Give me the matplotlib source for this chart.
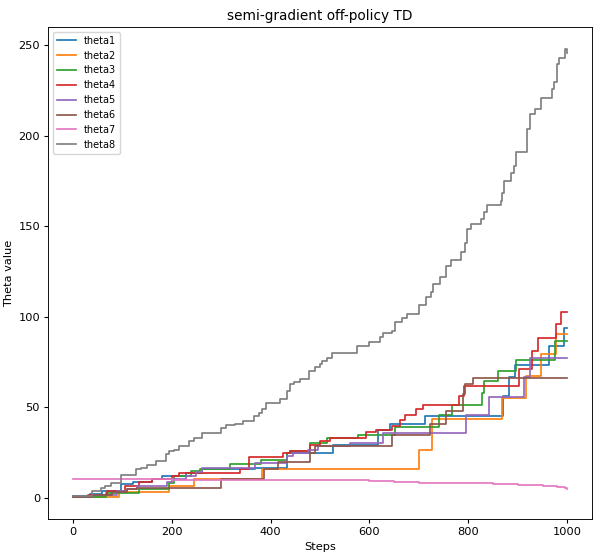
import numpy as np
import matplotlib
matplotlib.use("Agg")
import matplotlib.pyplot as plt

# step positions and theta values (value holds until next step)
steps1 = [0, 35, 60, 97, 121, 161, 181, 230, 261, 369, 433, 527, 618, 641, 712, 870, 883, 895, 964, 994, 1000]
theta1 = [0.8, 2.0, 3.5, 7.2, 8.5, 10.3, 11.8, 13.6, 15.5, 16.4, 24.7, 29.3, 37.6, 40.4, 45.2, 56.0, 66.5, 73.0, 84.0, 94.0, 94.0]

steps2 = [0, 94, 195, 245, 383, 700, 727, 868, 917, 947, 977, 1000]
theta2 = [0.5, 3.3, 6.3, 10.5, 15.5, 26.2, 43.5, 55.1, 67.1, 79.1, 90.2, 90.2]

steps3 = [0, 67, 134, 195, 205, 240, 258, 319, 380, 433, 440, 480, 514, 577, 651, 741, 766, 828, 832, 859, 896, 976, 1000]
theta3 = [0.5, 2.6, 4.6, 8.2, 11.8, 14.8, 15.9, 18.3, 21.0, 24.7, 25.6, 30.0, 33.0, 34.3, 38.9, 45.4, 50.9, 57.9, 64.3, 69.9, 76.3, 86.5, 86.5]

steps4 = [0, 30, 70, 105, 135, 160, 200, 215, 339, 356, 426, 440, 480, 500, 520, 594, 614, 645, 661, 671, 695, 708, 782, 792, 903, 929, 940, 977, 987, 1000]
theta4 = [0.5, 1.5, 3.5, 6.3, 8.5, 10.3, 12.0, 13.6, 15.9, 22.5, 24.7, 25.6, 29.0, 31.5, 33.0, 36.0, 37.6, 39.5, 43.1, 45.9, 48.7, 51.1, 56.0, 61.6, 71.0, 80.9, 88.3, 96.2, 102.5, 102.5]

steps5 = [0, 40, 90, 110, 130, 190, 200, 230, 250, 261, 369, 433, 445, 476, 496, 560, 628, 796, 841, 913, 925, 1000]
theta5 = [0.5, 1.5, 3.5, 4.5, 6.3, 8.5, 10.3, 12.0, 14.0, 16.4, 19.2, 22.9, 24.7, 26.2, 28.4, 30.2, 35.4, 45.9, 55.5, 66.5, 77.0, 77.0]

steps6 = [0, 40, 80, 110, 130, 299, 386, 416, 480, 490, 645, 722, 755, 789, 793, 809, 1000]
theta6 = [0.5, 1.5, 3.0, 4.5, 5.5, 10.0, 15.5, 19.5, 24.7, 28.4, 34.3, 40.4, 47.8, 57.0, 62.5, 66.2, 66.2]

steps7 = [0, 200, 400, 600, 650, 700, 800, 850, 900, 950, 980, 995, 1000]
theta7 = [10.0, 9.9, 9.6, 9.3, 8.6, 8.2, 7.9, 7.4, 6.9, 6.4, 5.9, 5.2, 4.6]

steps8 = [0, 40, 57, 66, 77, 97, 128, 138, 151, 168, 188, 195, 205, 215, 235, 245, 262, 299, 309, 329,
          345, 366, 376, 383, 390, 420, 433, 440, 447, 460, 478, 490, 500, 505, 515, 525, 575, 600, 621, 627,
          645, 651, 665, 675, 700, 715, 725, 728, 742, 755, 765, 786, 794, 798, 805, 826, 832, 838, 866, 869,
          873, 886, 892, 897, 918, 925, 935, 947, 970, 974, 979, 983, 995, 1000]
theta8 = [0.7, 3.5, 5.5, 6.3, 8.2, 12.7, 15.5, 16.5, 18.2, 20.0, 23.8, 25.6, 26.5, 28.4, 31.1, 33.0, 35.8, 38.5, 40.0, 40.4,
          42.2, 45.0, 47.0, 48.7, 52.4, 54.2, 58.8, 62.5, 63.6, 65.3, 69.9, 72.0, 73.6, 75.4, 77.3, 80.0, 84.0, 86.0, 88.5, 91.2,
          92.0, 97.3, 99.5, 101.2, 106.7, 110.6, 113.4, 117.8, 121.7, 128.0, 131.6, 135.5, 141.0, 148.2, 151.0, 153.8, 157.6, 161.7, 163.9, 168.6,
          175.0, 179.6, 183.3, 190.8, 203.5, 211.8, 214.6, 220.7, 225.7, 230.0, 239.5, 243.0, 247.8, 246.0]

series = [(steps1, theta1), (steps2, theta2), (steps3, theta3), (steps4, theta4),
          (steps5, theta5), (steps6, theta6), (steps7, theta7), (steps8, theta8)]
labels = ["theta1", "theta2", "theta3", "theta4", "theta5", "theta6", "theta7", "theta8"]

sc = 0.82
plt.rcParams["font.size"] = 10 * sc
plt.rcParams["xtick.major.size"] = 3.5 * sc
plt.rcParams["ytick.major.size"] = 3.5 * sc
plt.rcParams["xtick.major.pad"] = 3.5 * sc
plt.rcParams["ytick.major.pad"] = 3.5 * sc
plt.rcParams["axes.labelpad"] = 4.0 * sc
plt.rcParams["axes.titlepad"] = 6.0 * sc
plt.rcParams["axes.linewidth"] = 0.8 * sc

fig = plt.figure(figsize=(6.05, 5.55), dpi=100)
ax = fig.add_axes([0.0793, 0.0649, 0.8992, 0.8865])
for (s, v), lab in zip(series, labels):
    ax.step(s, v, where="post", label=lab, lw=1.5 * sc)
ax.set_title("semi-gradient off-policy TD")
ax.set_xlabel("Steps")
ax.set_ylabel("Theta value")
ax.legend(loc="upper left", fontsize=7.0)
fig.savefig("out.png", dpi=100)
